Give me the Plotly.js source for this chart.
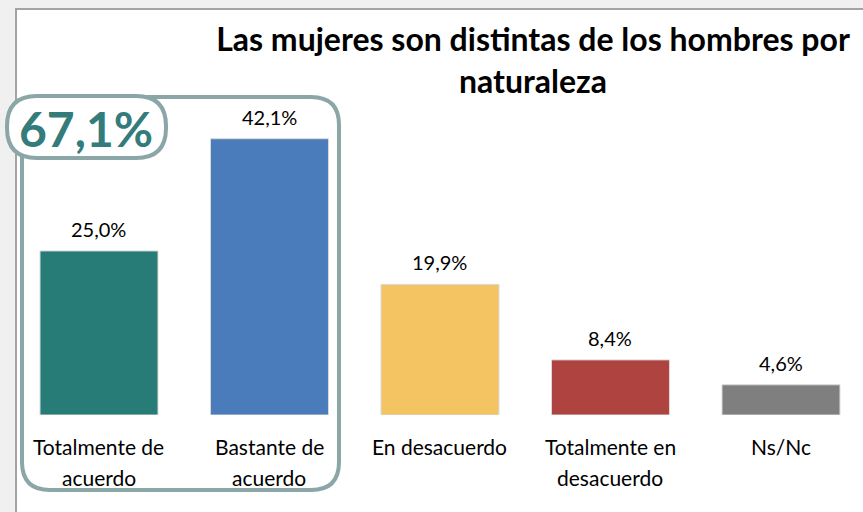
<!DOCTYPE html>
<html>
<head>
<meta charset="utf-8">
<script src="https://cdn.plot.ly/plotly-3.0.1.min.js"></script>
<style>
html,body{margin:0;padding:0;background:#f0f0f0;}
#wrap{position:relative;width:863px;height:512px;overflow:hidden;}
#frame{position:absolute;left:15px;top:8px;width:900px;height:600px;background:#ffffff;border-left:2px solid #a3a3a3;border-top:2px solid #a3a3a3;box-sizing:border-box;}
#chart{position:absolute;left:0;top:0;width:863px;height:512px;}
</style>
</head>
<body>
<div id="wrap"><div id="frame"></div><div id="chart"></div></div>
<script>
var categories = ["Totalmente de<br>acuerdo", "Bastante de<br>acuerdo", "En desacuerdo", "Totalmente en<br>desacuerdo", "Ns/Nc"];
var values = [25.0, 42.1, 19.9, 8.4, 4.6];
var valueLabels = ["25,0%", "42,1%", "19,9%", "8,4%", "4,6%"];
var barColors = ["#287c77", "#4a7cbc", "#f5c462", "#ae4340", "#7f7f7f"];
var groupLabel = "67,1%";
var titleText = "Las mujeres son distintas de los hombres por<br>naturaleza";

var W = 863, H = 512;
var M = {l: 14, r: 0, t: 100, b: 97};
var PW = W - M.l - M.r, PH = H - M.t - M.b;
function px2x(px){ return (px - M.l) / PW; }
function py2y(py){ return (H - M.b - py) / PH; }
function roundRect(x0, y0, x1, y1, r){
  function P(x, y){ return px2x(x).toFixed(5) + "," + py2y(y).toFixed(5); }
  return "M" + P(x0 + r, y0) +
    " L" + P(x1 - r, y0) + " Q" + P(x1, y0) + " " + P(x1, y0 + r) +
    " L" + P(x1, y1 - r) + " Q" + P(x1, y1) + " " + P(x1 - r, y1) +
    " L" + P(x0 + r, y1) + " Q" + P(x0, y1) + " " + P(x0, y1 - r) +
    " L" + P(x0, y0 + r) + " Q" + P(x0, y0) + " " + P(x0 + r, y0) + " Z";
}

var idx = categories.map(function(_, i){ return i; });

var trace = {
  type: "bar",
  x: idx,
  y: values,
  marker: {color: barColors, line: {color: "#d9d9d9", width: 1}},
  hoverinfo: "skip"
};

var annotations = [];
values.forEach(function(v, i){
  annotations.push({
    x: i, y: v, xref: "x", yref: "y", text: valueLabels[i], showarrow: false,
    yanchor: "middle", yshift: 22, font: {family: "Lato, sans-serif", size: 20, color: "#000"}
  });
  var lines = categories[i].split("<br>");
  lines.forEach(function(t, k){
    annotations.push({
      x: i, y: 0, xref: "x", yref: "y", text: t, showarrow: false,
      yanchor: "middle", yshift: -31 - 31 * k, font: {family: "Lato, sans-serif", size: 21, color: "#000"}
    });
  });
});
annotations.push({
  xref: "paper", yref: "paper", x: px2x(86), y: py2y(128), text: "<b>" + groupLabel + "</b>",
  showarrow: false, xanchor: "center", yanchor: "middle",
  font: {family: "Lato, sans-serif", size: 48, color: "#347b7c"}
});

var shapes = [
  {type: "path", xref: "paper", yref: "paper", path: roundRect(22, 97, 339, 490, 28),
   line: {color: "#8ba6a7", width: 4}, fillcolor: "rgba(0,0,0,0)", layer: "above"},
  {type: "path", xref: "paper", yref: "paper", path: roundRect(7, 96, 166, 158, 30),
   line: {color: "#8ba6a7", width: 4}, fillcolor: "#ffffff", layer: "above"}
];

var layout = {
  width: W, height: H,
  margin: M,
  paper_bgcolor: "rgba(0,0,0,0)",
  plot_bgcolor: "rgba(0,0,0,0)",
  showlegend: false,
  bargap: 0.308,
  title: {
    text: "<b>" + titleText + "</b>",
    xref: "container", yref: "container",
    x: 533 / W, xanchor: "center",
    y: 1 - 51 / H, yanchor: "top",
    font: {family: "Lato, sans-serif", size: 32, color: "#000"}
  },
  xaxis: {range: [-0.4985, 4.481], showticklabels: false, showgrid: false, zeroline: false, showline: false, ticks: "", fixedrange: true},
  yaxis: {range: [0, 48], showticklabels: false, showgrid: false, zeroline: false, showline: false, ticks: "", fixedrange: true},
  shapes: shapes,
  annotations: annotations
};

Plotly.newPlot("chart", [trace], layout, {displayModeBar: false, staticPlot: true});
</script>
</body>
</html>
